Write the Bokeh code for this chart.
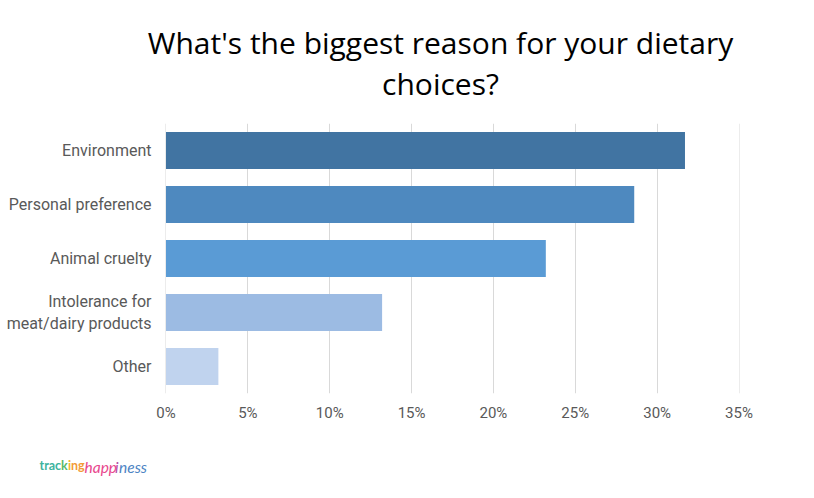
from bokeh.plotting import figure
from bokeh.layouts import column, row
from bokeh.models import FactorRange, Range1d, FixedTicker, PrintfTickFormatter
from bokeh.core.properties import value
from bokeh.embed import file_html
from bokeh.resources import INLINE

categories = ["Environment", "Personal preference", "Animal cruelty",
              "Intolerance for\nmeat/dairy products", "Other"]
values = [31.7, 28.6, 23.2, 13.2, 3.2]
colors = ["#4174a2", "#4e89bf", "#5a9bd5", "#9cbbe3", "#c0d3ee"]
x_ticks = [0, 5, 10, 15, 20, 25, 30, 35]
title_lines = ["What's the biggest reason for your dietary", "choices?"]
logo_parts = ["trac", "k", "i", "ng", "happ", "i", "ness"]
logo_colors = ["#3db39e", "#59b96a", "#f2b632", "#f39a36", "#e8468d", "#b54fa6", "#4d84c4"]
logo_x = [39, 60.5, 67.5, 70.5, 84, 114.5, 118.5]

W = 810


def blank(h):
    f = figure(width=W, height=h, x_range=Range1d(0, W), y_range=Range1d(0, h),
               x_axis_type=None, y_axis_type=None, output_backend="svg",
               toolbar_location=None, min_border=0)
    f.outline_line_color = None
    f.grid.grid_line_color = None
    return f


# title
tf = blank(118)
tf.text(x=[440, 440], y=[118 - 42, 118 - 83], text=title_lines, text_align="center",
        text_baseline="middle", text_font=value("Open Sans"),
        text_font_size="30px", text_color="#000000")

# main chart
factors = categories[::-1]
p = figure(width=W, height=320,
           y_range=FactorRange(factors=factors),
           x_range=Range1d(-0.03, 35.03),
           output_backend="svg", toolbar_location=None,
           min_border_left=165, min_border_right=W - 739,
           min_border_top=5, min_border_bottom=45)
p.hbar(y=categories, left=0, right=values, height=0.685, color=colors, line_color=None)
p.outline_line_color = None
p.ygrid.grid_line_color = None
p.xgrid.grid_line_color = "#d9d9d9"
p.xgrid.grid_line_width = 1
p.xaxis.ticker = FixedTicker(ticks=x_ticks)
p.xaxis.formatter = PrintfTickFormatter(format="%d%%")
p.xaxis.axis_line_color = None
p.yaxis.axis_line_color = None
for ax in (p.xaxis, p.yaxis):
    ax.major_tick_line_color = None
    ax.minor_tick_line_color = None
    ax.major_label_text_font = "Roboto"
    ax.major_label_text_color = "#595959"
p.xaxis.major_label_text_font_size = "15px"
p.yaxis.major_label_text_font_size = "16px"
p.xaxis.major_label_standoff = 4
p.yaxis.major_label_standoff = 8

# logo
lf = blank(494 - 118 - 320)
lf.text(x=logo_x[:4], y=[29] * 4, text=logo_parts[:4], text_color=logo_colors[:4],
        text_align="left", text_baseline="middle", text_font=value("Lato"),
        text_font_size="12.5px", text_font_style="bold")
lf.text(x=logo_x[4:], y=[28] * 3, text=logo_parts[4:], text_color=logo_colors[4:],
        text_align="left", text_baseline="middle", text_font=value("Lato"),
        text_font_size="15.5px", text_font_style="italic")

layout = column(row(tf), p, row(lf), spacing=0)
open("out.html", "w").write(file_html(layout, INLINE))
